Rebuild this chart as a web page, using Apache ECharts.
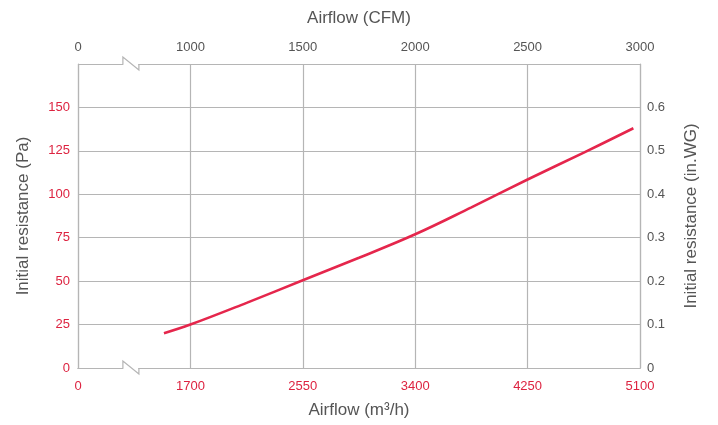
<!DOCTYPE html>
<html>
<head>
<meta charset="utf-8">
<script src="https://cdn.jsdelivr.net/npm/echarts@6/dist/echarts.min.js"></script>
<style>
html,body{margin:0;padding:0;background:#fff;}
#chart{width:718px;height:425px;}
</style>
</head>
<body>
<div id="chart"></div>
<script>
// Data (m³/h vs Pa)
var airflowM3h = [1500, 1700, 2125, 2550, 2975, 3400, 3825, 4250, 4675, 5050];
var resistancePa = [20, 25, 37.5, 50.5, 63.5, 77, 92.5, 108.5, 124, 138];
// Axis tick settings
var bottomTicks = [0, 1700, 2550, 3400, 4250, 5100];
var topTicks = [0, 1000, 1500, 2000, 2500, 3000];
var leftTicks = [0, 25, 50, 75, 100, 125, 150];
var rightTicks = [0, 0.1, 0.2, 0.3, 0.4, 0.5, 0.6];

var RED = '#dd2340';
var LINE = '#e5264c';
var GRAY_TXT = '#555555';
var GRID = '#b5b5b5';
var FONT = 'Liberation Sans, Arial, Helvetica, sans-serif';

var chart = echarts.init(document.getElementById('chart'));

var seriesData = airflowM3h.map(function (x, i) { return [x, resistancePa[i]]; });

var bottomMin = 850, bottomMax = 5100, bottomStep = 850; // first slot shown as 0 (axis break)
var topMin = 500, topMax = 3000, topStep = 500;

function bottomLabel(v) {
  var idx = Math.round((v - bottomMin) / bottomStep);
  return bottomTicks[idx] !== undefined ? String(bottomTicks[idx]) : '';
}
function topLabel(v) {
  var idx = Math.round((v - topMin) / topStep);
  return topTicks[idx] !== undefined ? String(topTicks[idx]) : '';
}

var option = {
  animation: false,
  backgroundColor: '#fff',
  textStyle: { fontFamily: FONT },
  grid: { left: 78, right: 78, top: 64, bottom: 57, containLabel: false },
  xAxis: [{
    type: 'value', position: 'bottom', min: bottomMin, max: bottomMax, interval: bottomStep,
    name: 'Airflow (m³/h)', nameLocation: 'middle', nameGap: 34,
    nameTextStyle: { color: GRAY_TXT, fontSize: 17, fontFamily: FONT },
    axisLine: { show: true, lineStyle: { color: GRID, width: 1.2 } },
    axisTick: { show: false },
    axisLabel: { color: RED, fontSize: 13, margin: 12, fontFamily: FONT, formatter: bottomLabel },
    splitLine: { show: true, lineStyle: { color: GRID, width: 1.2 } }
  }, {
    type: 'value', position: 'top', min: topMin, max: topMax, interval: topStep,
    name: 'Airflow (CFM)', nameLocation: 'middle', nameGap: 37,
    nameTextStyle: { color: GRAY_TXT, fontSize: 17, fontFamily: FONT },
    axisLine: { show: true, lineStyle: { color: GRID, width: 1.2 } },
    axisTick: { show: false },
    axisLabel: { color: GRAY_TXT, fontSize: 13, margin: 10, fontFamily: FONT, formatter: topLabel },
    splitLine: { show: false }
  }],
  yAxis: [{
    type: 'value', position: 'left', min: 0, max: 175, interval: 25,
    name: 'Initial resistance (Pa)', nameLocation: 'middle', nameGap: 46,
    nameTextStyle: { color: GRAY_TXT, fontSize: 17, fontFamily: FONT },
    axisLine: { show: true, lineStyle: { color: GRID, width: 1.2 } },
    axisTick: { show: false },
    axisLabel: { color: RED, fontSize: 13, margin: 8, fontFamily: FONT,
      formatter: function (v) { return leftTicks.indexOf(v) >= 0 ? String(v) : ''; } },
    splitLine: { show: true, lineStyle: { color: GRID, width: 1.2 } }
  }, {
    type: 'value', position: 'right', min: 0, max: 0.7, interval: 0.1,
    name: 'Initial resistance (in.WG)', nameLocation: 'middle', nameGap: 43,
    nameTextStyle: { color: GRAY_TXT, fontSize: 17, fontFamily: FONT },
    axisLine: { show: true, lineStyle: { color: GRID, width: 1.2 } },
    axisTick: { show: false },
    axisLabel: { color: GRAY_TXT, fontSize: 13, margin: 7, fontFamily: FONT,
      formatter: function (v) {
        var r = Math.round(v * 10) / 10;
        if (r > 0.6) return '';
        return r === 0 ? '0' : r.toFixed(1);
      } },
    splitLine: { show: false }
  }],
  series: [{
    type: 'line', xAxisIndex: 0, yAxisIndex: 0,
    data: seriesData, smooth: 0.4, symbol: 'none',
    lineStyle: { color: LINE, width: 2.6 }
  }]
};
chart.setOption(option);

// Axis break marks (decoration) on top and bottom axes
var breakCenter = 1250; // m³/h position of the break symbol
function drawBreaks() {
  var pTop = chart.convertToPixel({ xAxisIndex: 0, yAxisIndex: 0 }, [breakCenter, 175]);
  var pBot = chart.convertToPixel({ xAxisIndex: 0, yAxisIndex: 0 }, [breakCenter, 0]);
  function mk(p) {
    var cx = p[0], cy = p[1];
    var x1 = cx - 8, x2 = cx + 8;
    return [{
      type: 'rect', shape: { x: x1 + 0.5, y: cy - 2, width: x2 - x1 - 1, height: 4 },
      style: { fill: '#fff' }, z: 100
    }, {
      type: 'polyline',
      shape: { points: [[x1, cy], [x1, cy - 7], [x2, cy + 6], [x2, cy]] },
      style: { stroke: GRID, lineWidth: 1.2, fill: null }, z: 101
    }];
  }
  chart.setOption({ graphic: { elements: mk(pTop).concat(mk(pBot)) } });
}
drawBreaks();
</script>
</body>
</html>
